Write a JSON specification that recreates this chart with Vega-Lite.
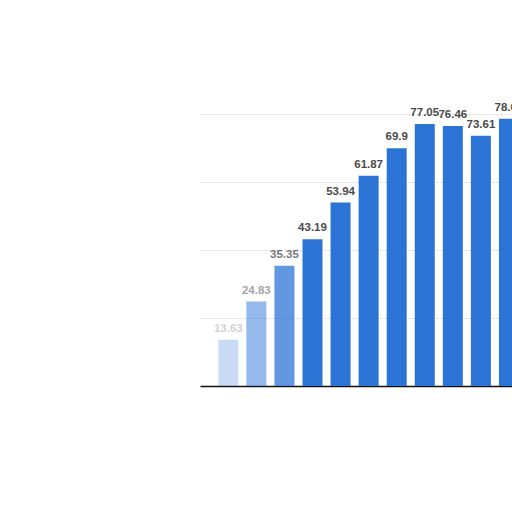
{
  "$schema": "https://vega.github.io/schema/vega-lite/v6.json",
  "width": 312,
  "height": 340,
  "autosize": {"type": "none"},
  "padding": {"left": 200, "top": 46, "right": 0, "bottom": 126},
  "background": "white",
  "config": {"view": {"stroke": null}},
  "data": {
    "values": [
      {"idx": 1, "value": 13.63},
      {"idx": 2, "value": 24.83},
      {"idx": 3, "value": 35.35},
      {"idx": 4, "value": 43.19},
      {"idx": 5, "value": 53.94},
      {"idx": 6, "value": 61.87},
      {"idx": 7, "value": 69.9},
      {"idx": 8, "value": 77.05},
      {"idx": 9, "value": 76.46},
      {"idx": 10, "value": 73.61},
      {"idx": 11, "value": 78.62}
    ]
  },
  "encoding": {
    "x": {
      "field": "idx",
      "type": "quantitative",
      "scale": {"domain": [0.17, 10.93], "nice": false, "zero": false},
      "axis": {"title": null, "labels": false, "ticks": false, "grid": false, "domainColor": "#111", "domainWidth": 1.5}
    },
    "y": {
      "field": "value",
      "type": "quantitative",
      "scale": {"domain": [0, 100], "nice": false},
      "axis": {"title": null, "labels": false, "ticks": false, "domain": false, "values": [20, 40, 60, 80], "gridColor": "#d4d4d4", "gridDash": [2, 2], "gridWidth": 1}
    },
    "opacity": {
      "field": "idx",
      "type": "quantitative",
      "scale": {"domain": [1, 4], "range": [0.25, 1], "clamp": true},
      "legend": null
    }
  },
  "layer": [
    {
      "mark": {"type": "bar", "size": 20, "color": "#2b74d6", "clip": true}
    },
    {
      "mark": {"type": "text", "dy": -11, "fontSize": 11.5, "fontWeight": "bold", "font": "Liberation Sans", "color": "#4a4a4a", "clip": true},
      "encoding": {"text": {"field": "value", "type": "quantitative"}}
    }
  ]
}
